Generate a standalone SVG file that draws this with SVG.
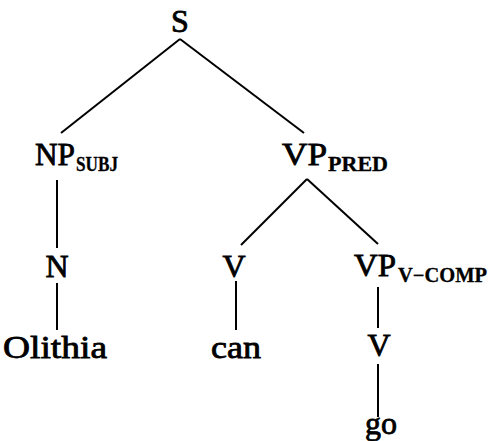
<svg xmlns="http://www.w3.org/2000/svg" width="490" height="441" viewBox="0 0 490 441">
<style>
.lbl{font-family:"Liberation Serif","Times New Roman",serif;font-size:32px;fill:#000;stroke:#000;stroke-width:0.8}
.sub{font-family:"Liberation Serif","Times New Roman",serif;font-size:20px;font-weight:bold;fill:#000;stroke:#000;stroke-width:0.3}
.edge{stroke:#000;stroke-width:2;fill:none;stroke-linecap:butt}
</style>
<rect width="490" height="441" fill="#fff"/>
<g id="connectors">
<line class="edge" x1="180" y1="39" x2="61" y2="133"/>
<line class="edge" x1="180" y1="39" x2="304" y2="133"/>
<line class="edge" x1="57" y1="180" x2="57" y2="248"/>
<line class="edge" x1="57" y1="283" x2="57" y2="330"/>
<line class="edge" x1="307" y1="179" x2="241" y2="245"/>
<line class="edge" x1="307" y1="179" x2="378" y2="244"/>
<line class="edge" x1="236" y1="281" x2="236" y2="330"/>
<line class="edge" x1="378" y1="287" x2="378" y2="328"/>
<line class="edge" x1="378" y1="364" x2="378" y2="417"/>
</g>
<g id="S"><text class="lbl" x="180" y="32" text-anchor="middle">S</text></g>
<g id="NP_SUBJ"><text class="lbl" x="35" y="165" textLength="40" lengthAdjust="spacingAndGlyphs">NP</text><text class="sub" x="76" y="171" textLength="42" lengthAdjust="spacingAndGlyphs">SUBJ</text></g>
<g id="VP_PRED"><text class="lbl" x="282" y="165" textLength="45" lengthAdjust="spacingAndGlyphs">VP</text><text class="sub" x="328" y="171" textLength="60" lengthAdjust="spacingAndGlyphs">PRED</text></g>
<g id="N"><text class="lbl" x="57" y="277" text-anchor="middle">N</text></g>
<g id="V1"><text class="lbl" x="234" y="277" text-anchor="middle">V</text></g>
<g id="VP_V-COMP"><text class="lbl" x="354" y="276" textLength="42" lengthAdjust="spacingAndGlyphs">VP</text><text class="sub" x="398" y="282" textLength="89" lengthAdjust="spacingAndGlyphs">V−COMP</text></g>
<g id="Olithia"><text class="lbl" x="3" y="358" textLength="104" lengthAdjust="spacingAndGlyphs">Olithia</text></g>
<g id="can"><text class="lbl" x="211" y="358" textLength="50" lengthAdjust="spacingAndGlyphs">can</text></g>
<g id="V2"><text class="lbl" x="379" y="356" text-anchor="middle">V</text></g>
<g id="go"><text class="lbl" x="381" y="434" text-anchor="middle">go</text></g>
</svg>
